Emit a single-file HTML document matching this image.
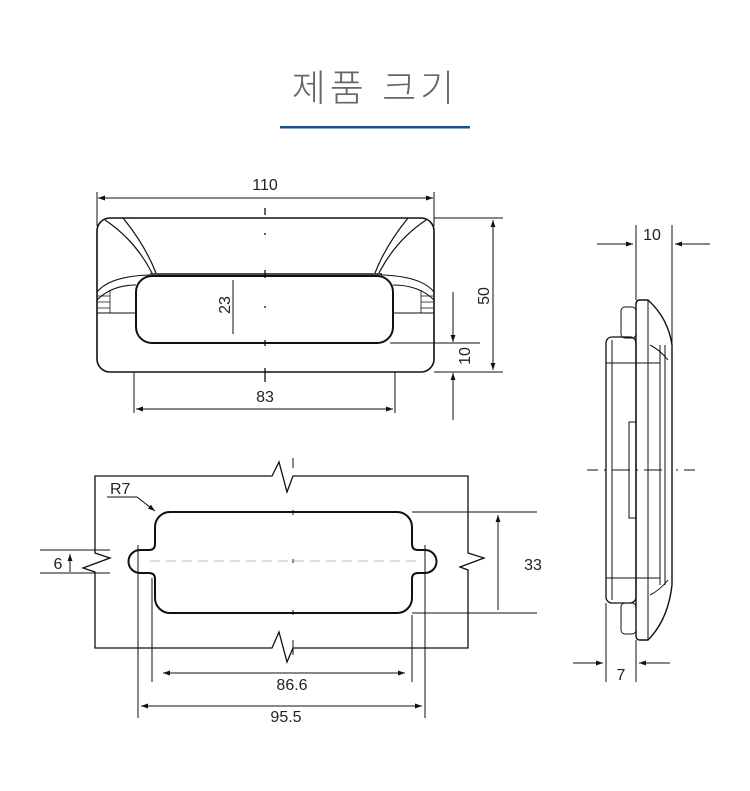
<!DOCTYPE html>
<html><head><meta charset="utf-8"><style>
html,body{margin:0;padding:0;background:#fff;width:750px;height:791px;overflow:hidden}
svg{display:block}
text{font-family:"Liberation Sans",sans-serif;fill:#222}
</style></head><body>
<svg width="750" height="791" viewBox="0 0 750 791" xmlns="http://www.w3.org/2000/svg">
<defs>
<marker id="a" viewBox="0 0 10 10" refX="10" refY="5" markerWidth="10" markerHeight="7" orient="auto-start-reverse" markerUnits="userSpaceOnUse"><path d="M0,1.5 L10,5 L0,8.5 z" fill="#111"/></marker>
</defs>
<text x="375" y="101" text-anchor="middle" style="font-family:'Liberation Sans','Noto Sans CJK KR',sans-serif;font-size:37px;fill:#666;letter-spacing:4px;font-weight:300">제품 크기</text>
<rect x="280" y="126" width="190" height="2.5" fill="#1f4e8c"/>

<g fill="none" stroke="#111" stroke-width="1">
<!-- Top view -->
<line x1="97" y1="192" x2="97" y2="226"/><line x1="434" y1="192" x2="434" y2="226"/>
<line x1="98" y1="198" x2="433" y2="198" marker-start="url(#a)" marker-end="url(#a)"/>
<rect x="97" y="218" width="337" height="154" rx="13" stroke-width="1.6"/>
<line x1="434" y1="218" x2="503" y2="218"/>
<line x1="434" y1="372" x2="503" y2="372"/>
<line x1="493" y1="220" x2="493" y2="370" marker-start="url(#a)" marker-end="url(#a)"/>
<line x1="150" y1="274" x2="382" y2="274" stroke-width="1.6"/>
<rect x="136" y="276" width="257" height="67" rx="16" stroke-width="2"/>
<line x1="390" y1="343" x2="480" y2="343"/>
<line x1="453" y1="292" x2="453" y2="342" marker-end="url(#a)"/>
<line x1="453" y1="420" x2="453" y2="373" marker-end="url(#a)"/>
<line x1="233" y1="280" x2="233" y2="334"/>
<path d="M105,220 Q135,240 152,273 M123,218 Q145,245 156,273" stroke-width="1.2"/>
<path d="M426,220 Q396,240 379,273 M408,218 Q386,245 375,273" stroke-width="1.2"/>
<path d="M97,292 Q110,276 150,275 M97,300 Q112,285 136,285 M97,313 L136,313" stroke-width="1.1"/>
<path d="M434,292 Q421,276 381,275 M434,300 Q419,285 393,285 M434,313 L393,313" stroke-width="1.1"/>
<path d="M98,296 L110,296 M98,302 L110,302 M98,308 L110,308 M110,290 L110,313 M421,296 L433,296 M421,302 L433,302 M421,308 L433,308 M421,290 L421,313" stroke-width="0.8"/>
<line x1="134" y1="372" x2="134" y2="413"/><line x1="395" y1="372" x2="395" y2="413"/>
<line x1="136" y1="409" x2="393" y2="409" marker-start="url(#a)" marker-end="url(#a)"/>
<path d="M265,208 V215 M265,233 V235 M265,270 V278 M265,306 V308 M265,340 V346 M265,368 V382" stroke-width="1.3"/>

<!-- Side view -->
<line x1="636" y1="225" x2="636" y2="300"/><line x1="672" y1="225" x2="672" y2="350"/>
<line x1="597" y1="244" x2="633" y2="244" marker-end="url(#a)"/>
<line x1="710" y1="244" x2="675" y2="244" marker-end="url(#a)"/>
<path d="M636,304 Q636,300 640,300 L648,300 Q668,318 672,345 L672,585 Q668,620 648,640 L640,640 Q636,640 636,636 Z" stroke-width="1.4"/>
<line x1="648" y1="300" x2="648" y2="640"/>
<line x1="660" y1="345" x2="660" y2="585"/><line x1="665" y1="345" x2="665" y2="585"/>
<path d="M650,345 Q660,350 668,360 M650,595 Q660,590 668,580"/>
<rect x="606" y="337" width="30" height="266" rx="6" stroke-width="1.3"/>
<line x1="612" y1="340" x2="612" y2="600"/>
<rect x="621" y="307" width="15" height="31" rx="4"/>
<rect x="621" y="603" width="15" height="31" rx="4"/>
<line x1="606" y1="363" x2="660" y2="363"/><line x1="606" y1="578" x2="660" y2="578"/>
<rect x="629" y="422" width="7" height="96"/>
<path d="M587,470 H598 M604,470 H606 M612,470 H630 M636,470 H638 M644,470 H662 M676,470 H678 M684,470 H695"/>
<line x1="606" y1="603" x2="606" y2="682"/><line x1="636" y1="640" x2="636" y2="682"/>
<line x1="573" y1="663" x2="603" y2="663" marker-end="url(#a)"/>
<line x1="670" y1="663" x2="639" y2="663" marker-end="url(#a)"/>

<!-- Cutout view -->
<path d="M95,553 V476 H272 L279,462 L287,492 L293,476 H468 V553 L484,558 L460,567 L468,570 V648 H293 L287,662 L279,632 L272,648 H95 V572 L83,568 L110,558 Z" stroke-width="1.3"/>
<path d="M170,512 H397 A15,15 0 0 1 412,527 V544 Q412,550 418,550 H425 A11.5,11.5 0 0 1 425,573 H418 Q412,573 412,579 V598 A15,15 0 0 1 397,613 H170 A15,15 0 0 1 155,598 V579 Q155,573 149,573 H140 A11.5,11.5 0 0 1 140,550 H149 Q155,550 155,544 V527 A15,15 0 0 1 170,512 Z" stroke-width="2"/>
<path d="M293,458 V468 M293,510 V515 M293,559 V563 M293,610 V615 M293,640 V655" stroke-width="1"/>
<line x1="150" y1="561" x2="420" y2="561" stroke="#bbb" stroke-dasharray="10,6"/>
<line x1="412" y1="512" x2="537" y2="512"/><line x1="412" y1="613" x2="537" y2="613"/>
<line x1="498" y1="610" x2="498" y2="515" marker-end="url(#a)"/>
<line x1="40" y1="550" x2="110" y2="550"/><line x1="40" y1="573" x2="110" y2="573"/>
<line x1="70" y1="572" x2="70" y2="554" marker-end="url(#a)"/>
<line x1="152" y1="578" x2="152" y2="682"/><line x1="412" y1="615" x2="412" y2="682"/>
<line x1="163" y1="673" x2="405" y2="673" marker-start="url(#a)" marker-end="url(#a)"/>
<line x1="138" y1="545" x2="138" y2="718"/><line x1="425" y1="545" x2="425" y2="718"/>
<line x1="141" y1="706" x2="422" y2="706" marker-start="url(#a)" marker-end="url(#a)"/>
<path d="M107,497 H137 L155,511" marker-end="url(#a)"/>
</g>

<g font-size="16">
<text x="265" y="190" text-anchor="middle">110</text>
<text x="265" y="402" text-anchor="middle">83</text>
<text transform="translate(489,296) rotate(-90)" text-anchor="middle">50</text>
<text transform="translate(470,356) rotate(-90)" text-anchor="middle">10</text>
<text transform="translate(230,305) rotate(-90)" text-anchor="middle">23</text>
<text x="652" y="240" text-anchor="middle">10</text>
<text x="621" y="680" text-anchor="middle">7</text>
<text x="533" y="570" text-anchor="middle">33</text>
<text x="58" y="569" text-anchor="middle">6</text>
<text x="292" y="690" text-anchor="middle">86.6</text>
<text x="286" y="722" text-anchor="middle">95.5</text>
<text x="110" y="494">R7</text>
</g>
</svg>
</body></html>
